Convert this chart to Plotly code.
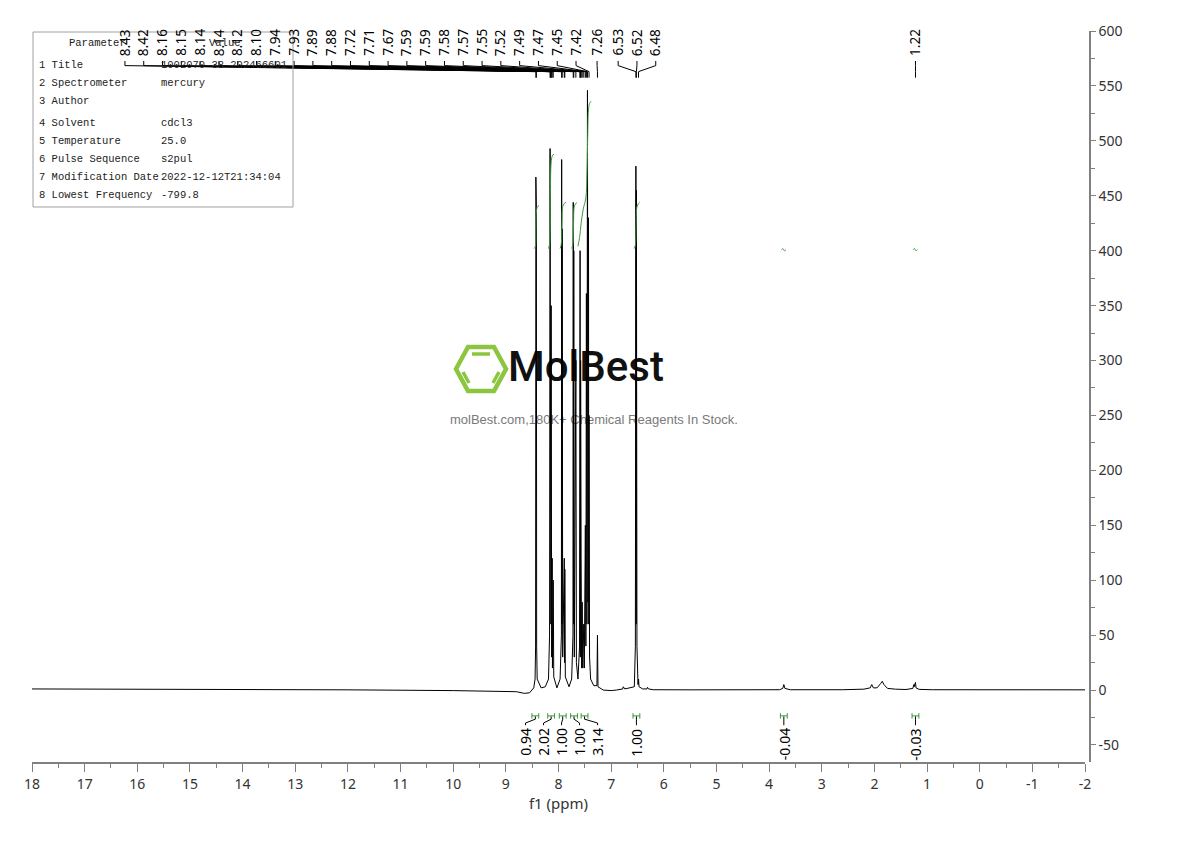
import plotly.graph_objects as go

# ---------------- data ----------------
SPEC_PPM = [18.0, 16.0, 14.0, 12.0, 10.0, 9.2, 8.8, 8.65, 8.55, 8.47, 8.445, 8.435, 8.43, 8.425, 8.42, 8.415,
            8.405, 8.33, 8.25, 8.19, 8.17, 8.16, 8.155, 8.15, 8.145, 8.14, 8.13, 8.12, 8.115, 8.10, 8.09,
            8.03, 7.97, 7.945, 7.94, 7.935, 7.93, 7.92, 7.89, 7.885, 7.88, 7.87, 7.80, 7.75, 7.725, 7.72,
            7.715, 7.71, 7.70, 7.67, 7.66, 7.63, 7.60, 7.59, 7.585, 7.58, 7.575, 7.57, 7.56, 7.55, 7.54,
            7.52, 7.51, 7.49, 7.48, 7.47, 7.46, 7.45, 7.44, 7.43, 7.425, 7.42, 7.41, 7.39, 7.33, 7.27,
            7.26, 7.25, 7.15, 7.0, 6.9, 6.78, 6.77, 6.74, 6.56, 6.54, 6.53, 6.525, 6.52, 6.51, 6.49, 6.48,
            6.47, 6.4, 6.32, 6.31, 6.29, 6.2, 5.5, 4.5, 3.8, 3.74, 3.72, 3.70, 3.6, 2.6, 2.2, 2.08, 2.05,
            2.02, 1.95, 1.88, 1.85, 1.82, 1.75, 1.6, 1.40, 1.27, 1.25, 1.245, 1.22, 1.21, 1.15, 0.9, 0.0,
            -1.0, -2.0]
SPEC_INT = [1.0, 0.8, 0.5, 0.2, -0.5, -1.0, -1.5, -3.0, -2.5, 2, 10, 40, 467, 60, 440, 40,
            10, 2, 3, 10, 50, 493, 80, 470, 60, 350, 30, 120, 20, 100, 12,
            2, 10, 50, 483, 60, 420, 30, 120, 25, 110, 12, 3, 10, 50, 444,
            60, 400, 30, 300, 25, 10, 40, 400, 30, 300, 30, 120, 20, 80, 20,
            60, 20, 150, 40, 361, 60, 546, 80, 430, 60, 250, 30, 10, 4, 4,
            50, 3, 0, -0.5, 0, 1, 3, 1, 3, 40, 477, 60, 455, 40, 5, 10,
            3, 1, 1, 2.5, 1, 0.3, 0.2, 0.2, 0.3, 1.5, 5, 1.5, 0.3, 0.3, 0.8, 2, 5,
            2, 2, 6, 8, 5, 1.5, 0.8, 0.5, 1.5, 5, 3, 7, 2, 0.6, 0.3, 0.2,
            0.2, 0.2]

# peak labels, grouped by multiplet
PEAK_GROUPS = [
    [8.43, 8.42, 8.16, 8.15, 8.14, 8.14, 8.12, 8.10, 7.94, 7.93, 7.89, 7.88, 7.72, 7.71, 7.67,
     7.59, 7.59, 7.58, 7.57, 7.55, 7.52, 7.49, 7.47, 7.45, 7.42],
    [7.26],
    [6.53, 6.52, 6.48],
    [1.22],
]

# integration regions
INT_START = [8.50, 8.20, 7.98, 7.76, 7.63, 6.58, 3.76, 1.27]
INT_END = [8.38, 8.08, 7.86, 7.65, 7.38, 6.46, 3.68, 1.17]
INT_LABELS = ["0.94", "2.02", "1.00", "1.00", "3.14", "1.00", "-0.04", "-0.03"]
INT_GROUPS = [[0, 1, 2, 3, 4], [5], [6], [7]]

# integral curves as drawn over the spectrum
INT_CURVE_PPM = [
    [8.46, 8.44, 8.43, 8.42, 8.40, 8.37],
    [8.19, 8.17, 8.155, 8.14, 8.12, 8.09],
    [7.97, 7.95, 7.935, 7.92, 7.89, 7.86],
    [7.75, 7.73, 7.715, 7.70, 7.67, 7.65],
    [7.63, 7.60, 7.57, 7.53, 7.48, 7.46, 7.445, 7.43, 7.41, 7.38],
    [6.56, 6.54, 6.525, 6.51, 6.48, 6.46],
    [3.76, 3.74, 3.71, 3.68],
    [1.26, 1.24, 1.21, 1.18],
]
INT_CURVE_Y = [
    [402, 404, 420, 436, 440, 441],
    [402, 406, 450, 480, 486, 488],
    [402, 405, 425, 440, 443, 444],
    [402, 405, 425, 440, 443, 444],
    [404, 412, 425, 438, 448, 470, 505, 528, 534, 536],
    [402, 405, 425, 440, 443, 444],
    [401, 402, 400, 401],
    [401, 402, 400, 401],
]

X_TICKS = list(range(18, -3, -1))
Y_TICKS = list(range(-50, 601, 50))

TABLE_PARAMS = ["1 Title", "2 Spectrometer", "3 Author", "4 Solvent", "5 Temperature",
                "6 Pulse Sequence", "7 Modification Date", "8 Lowest Frequency"]
TABLE_VALUES = ["1002070-38-202466601", "mercury", "", "cdcl3", "25.0", "s2pul",
                "2022-12-12T21:34:04", "-799.8"]

# ---------------- layout helpers ----------------
OFF = 8  # default page body margin
W, H = 1190 - OFF, 841 - OFF
ML, MR, MT, MB = 32 - OFF, 100, 31 - OFF, 79
PW, PH = W - ML - MR, H - MT - MB
YMIN, YMAX = -65.5, 600


def px(x):
    return (x - OFF - ML) / PW


def py(y):
    return (H - MB - (y - OFF)) / PH


def spread(groups, spacing, gap):
    out = []
    prev_left = None
    for grp in reversed(groups):
        n = len(grp)
        c = sum(grp) / n
        pos = [c + (n - 1) / 2 * spacing - i * spacing for i in range(n)]
        if prev_left is not None and pos[-1] < prev_left + gap:
            s = prev_left + gap - pos[-1]
            pos = [p + s for p in pos]
        prev_left = pos[0]
        out.append(pos)
    out.reverse()
    return out


fig = go.Figure()

# watermark (below data)
fig.add_trace(go.Scatter(x=[7.478], y=[291], mode="text", text=["MolBest"],
                         textfont=dict(family="Roboto, Liberation Sans", size=42, color="#111111", weight=500),
                         hoverinfo="skip", showlegend=False))
fig.add_trace(go.Scatter(x=[7.326], y=[245], mode="text",
                         text=["molBest.com,180K+ Chemical Reagents In Stock."],
                         textfont=dict(family="Liberation Sans, Arial", size=13, color="#7a7a7a"),
                         hoverinfo="skip", showlegend=False))

shapes = []
green_logo = "#8cc63f"
hexv = [(456, 369), (468, 347), (494, 347), (506, 369), (494, 391), (468, 391)]
path = "M " + " L ".join(f"{px(a):.5f},{py(b):.5f}" for a, b in hexv) + " Z"
shapes.append(dict(type="path", xref="paper", yref="paper", path=path,
                   line=dict(color=green_logo, width=4.5), layer="below"))
for (a0, b0, a1, b1) in [(472, 354, 490, 354), (463, 372, 469, 383), (499, 372, 493, 383)]:
    shapes.append(dict(type="line", xref="paper", yref="paper", x0=px(a0), y0=py(b0),
                       x1=px(a1), y1=py(b1), line=dict(color=green_logo, width=3.5), layer="below"))

# spectrum
fig.add_trace(go.Scatter(x=SPEC_PPM, y=SPEC_INT, mode="lines",
                         line=dict(color="#000000", width=1), hoverinfo="skip", showlegend=False))

# integral curves
green = "#3a9a3a"
for xs, ys in zip(INT_CURVE_PPM, INT_CURVE_Y):
    fig.add_trace(go.Scatter(x=xs, y=ys, mode="lines", line=dict(color=green, width=1, shape="spline"),
                             hoverinfo="skip", showlegend=False))

annotations = []

# peak labels and connectors
label_pos = spread(PEAK_GROUPS, 0.357, 0.40)
for grp, pos in zip(PEAK_GROUPS, label_pos):
    for p, lp in zip(grp, pos):
        annotations.append(dict(x=lp, y=575.5, xref="x", yref="y", text=f"{p:.2f}", textangle=-90,
                                showarrow=False, xanchor="center", yanchor="bottom",
                                font=dict(family="Noto Sans, DejaVu Sans", size=13.5, color="#000")))
        shapes.append(dict(type="path", xref="x", yref="y",
                           path=f"M {lp},572.7 L {lp},568.5 L {p},563 L {p},557.5",
                           line=dict(color="#000", width=1)))

# integration marks and labels
centers = [(a + b) / 2 for a, b in zip(INT_START, INT_END)]
int_label_pos = spread([[centers[i] for i in g] for g in INT_GROUPS], 0.342, 0.342)
for g, pos in zip(INT_GROUPS, int_label_pos):
    for i, lp in zip(g, pos):
        c = centers[i]
        a, b = c + 0.065, c - 0.065
        shapes.append(dict(type="path", xref="x", yref="y",
                           path=f"M {a},-21 L {a},-26 M {a},-23.5 L {b},-23.5 M {b},-21 L {b},-26",
                           line=dict(color=green, width=1)))
        shapes.append(dict(type="path", xref="x", yref="y",
                           path=f"M {c},-24 L {c},-26.5 L {lp},-30 L {lp},-32",
                           line=dict(color="#000", width=1)))
        annotations.append(dict(x=lp, y=-33, xref="x", yref="y", text=INT_LABELS[i], textangle=-90,
                                showarrow=False, xanchor="center", yanchor="top",
                                font=dict(family="Noto Sans, DejaVu Sans", size=14, color="#000")))

# parameter table
shapes.append(dict(type="rect", xref="paper", yref="paper", x0=px(33), x1=px(293), y0=py(207), y1=py(32),
                   line=dict(color="#a0a0a0", width=1), fillcolor="rgba(0,0,0,0)"))
tfont = dict(family="Liberation Mono, DejaVu Sans Mono", size=10.5, color="#222")
annotations.append(dict(x=px(97), y=py(43), xref="paper", yref="paper", text="Parameter", showarrow=False,
                        xanchor="center", yanchor="middle", font=tfont))
annotations.append(dict(x=px(225), y=py(43), xref="paper", yref="paper", text="Value", showarrow=False,
                        xanchor="center", yanchor="middle", font=tfont))
row_y = [65, 83, 101, 123, 141, 159, 177, 195]
for ry, pname, pval in zip(row_y, TABLE_PARAMS, TABLE_VALUES):
    annotations.append(dict(x=px(37), y=py(ry), xref="paper", yref="paper", text=pname, showarrow=False,
                            xanchor="left", yanchor="middle", font=tfont))
    if pval:
        annotations.append(dict(x=px(159), y=py(ry), xref="paper", yref="paper", text=pval, showarrow=False,
                                xanchor="left", yanchor="middle", font=tfont))

axis_font = dict(family="Noto Sans, DejaVu Sans", size=14, color="#333")
fig.update_layout(
    width=W, height=H,
    margin=dict(l=ML, r=MR, t=MT, b=MB),
    paper_bgcolor="white", plot_bgcolor="white",
    showlegend=False,
    shapes=shapes,
    annotations=annotations,
    xaxis=dict(range=[18, -2], domain=[0, (1085 - 32) / PW], showgrid=False, zeroline=False,
               showline=True, linecolor="#808080", linewidth=1.5,
               tickmode="array", tickvals=X_TICKS, ticktext=[str(t) for t in X_TICKS],
               ticks="outside", ticklen=8, tickcolor="#808080", tickwidth=1,
               minor=dict(tickmode="linear", tick0=0, dtick=0.5, ticks="outside", ticklen=4,
                          tickcolor="#808080", tickwidth=1),
               tickfont=axis_font,
               title=dict(text="f1 (ppm)", font=dict(family="Noto Sans, DejaVu Sans", size=15, color="#333"),
                          standoff=2)),
    yaxis=dict(range=[YMIN, YMAX], side="right", anchor="free", position=1.0, showgrid=False, zeroline=False,
               showline=True, linecolor="#808080", linewidth=1.5,
               tickmode="array", tickvals=Y_TICKS, ticktext=[str(t) for t in Y_TICKS],
               ticks="outside", ticklen=5, tickcolor="#808080", tickwidth=1,
               minor=dict(tickmode="linear", tick0=0, dtick=25, ticks="outside", ticklen=4,
                          tickcolor="#808080", tickwidth=1),
               tickfont=axis_font),
)

fig.write_html("out.html")
